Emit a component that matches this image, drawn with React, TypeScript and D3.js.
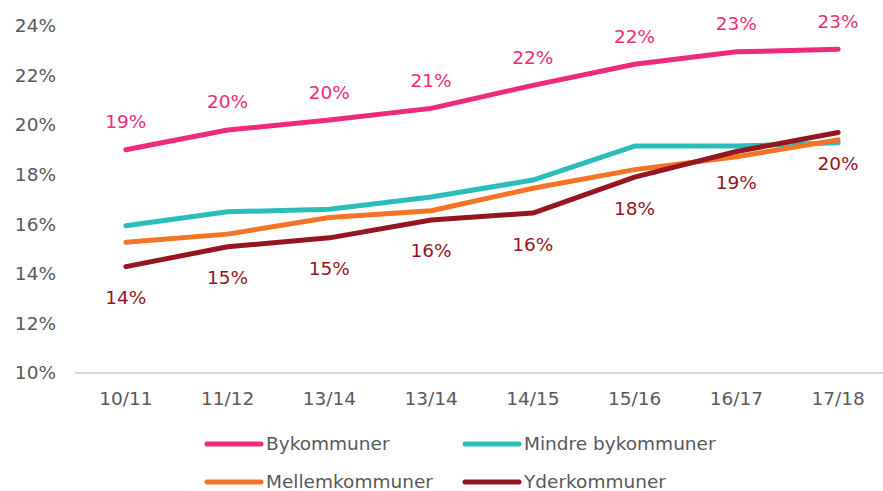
import React from "react";
import * as d3 from "d3";

const categories = ["10/11", "11/12", "13/14", "13/14 ", "14/15", "15/16", "16/17", "17/18"];
const categoryLabels = ["10/11", "11/12", "13/14", "13/14", "14/15", "15/16", "16/17", "17/18"];
const bykommuner = [19.0, 19.8, 20.2, 20.67, 21.6, 22.45, 22.95, 23.05];
const mindreBykommuner = [15.94, 16.5, 16.6, 17.1, 17.78, 19.15, 19.15, 19.28];
const mellemkommuner = [15.27, 15.6, 16.27, 16.54, 17.45, 18.2, 18.72, 19.4];
const yderkommuner = [14.29, 15.09, 15.45, 16.17, 16.45, 17.9, 18.93, 19.7];
const yTicks = [10, 12, 14, 16, 18, 20, 22, 24];

const series = [
  { name: "Bykommuner", values: bykommuner, color: "#EE2A7B", label: "above" },
  { name: "Mindre bykommuner", values: mindreBykommuner, color: "#2BBDB9", label: "none" },
  { name: "Mellemkommuner", values: mellemkommuner, color: "#F47425", label: "none" },
  { name: "Yderkommuner", values: yderkommuner, color: "#951520", label: "below" },
];

export default function App() {
  const W = 883;
  const H = 491;
  const x = d3.scaleBand<string>().domain(categories).range([75, 889]);
  const y = d3.scaleLinear().domain([10, 24]).range([373, 25.8]);
  const cx = (c: string) => (x(c) as number) + x.bandwidth() / 2;
  const line = d3
    .line<number>()
    .x((_, i) => cx(categories[i]))
    .y((d) => y(d));
  const font = "'DejaVu Sans', Verdana, sans-serif";
  const fs = 18.5;
  const legend = [
    { s: series[0], lx: 207, ly: 444 },
    { s: series[1], lx: 465, ly: 444 },
    { s: series[2], lx: 207, ly: 482 },
    { s: series[3], lx: 465, ly: 482 },
  ];
  return (
    <svg
      width={W}
      height={H}
      style={{ position: "absolute", left: 0, top: 0, background: "#fff" }}
      fontFamily={font}
    >
      {yTicks.map((t) => (
        <text
          key={t}
          x={56}
          y={y(t)}
          dy="0.35em"
          textAnchor="end"
          fontSize={fs}
          fill="#595959"
        >
          {t}%
        </text>
      ))}
      <line x1={75} x2={889} y1={y(10)} y2={y(10)} stroke="#D9D9D9" strokeWidth={2} />
      {categories.map((c, i) => (
        <text
          key={c}
          x={cx(c)}
          y={399}
          dy="0.35em"
          textAnchor="middle"
          fontSize={fs}
          fill="#595959"
        >
          {categoryLabels[i]}
        </text>
      ))}
      {series.map((s) => (
        <path
          key={s.name}
          d={line(s.values) as string}
          fill="none"
          stroke={s.color}
          strokeWidth={5}
          strokeLinecap="round"
          strokeLinejoin="round"
        />
      ))}
      {series
        .filter((s) => s.label !== "none")
        .map((s) =>
          s.values.map((v, i) => (
            <text
              key={s.name + i}
              x={cx(categories[i])}
              y={y(v) + (s.label === "above" ? -28 : 31)}
              dy="0.35em"
              textAnchor="middle"
              fontSize={fs}
              fill={s.color}
            >
              {Math.round(v)}%
            </text>
          ))
        )}
      {legend.map(({ s, lx, ly }) => (
        <g key={s.name}>
          <line
            x1={lx}
            x2={lx + 54}
            y1={ly}
            y2={ly}
            stroke={s.color}
            strokeWidth={5}
            strokeLinecap="round"
          />
          <text x={lx + 59} y={ly} dy="0.35em" fontSize={fs} fill="#595959">
            {s.name}
          </text>
        </g>
      ))}
    </svg>
  );
}
